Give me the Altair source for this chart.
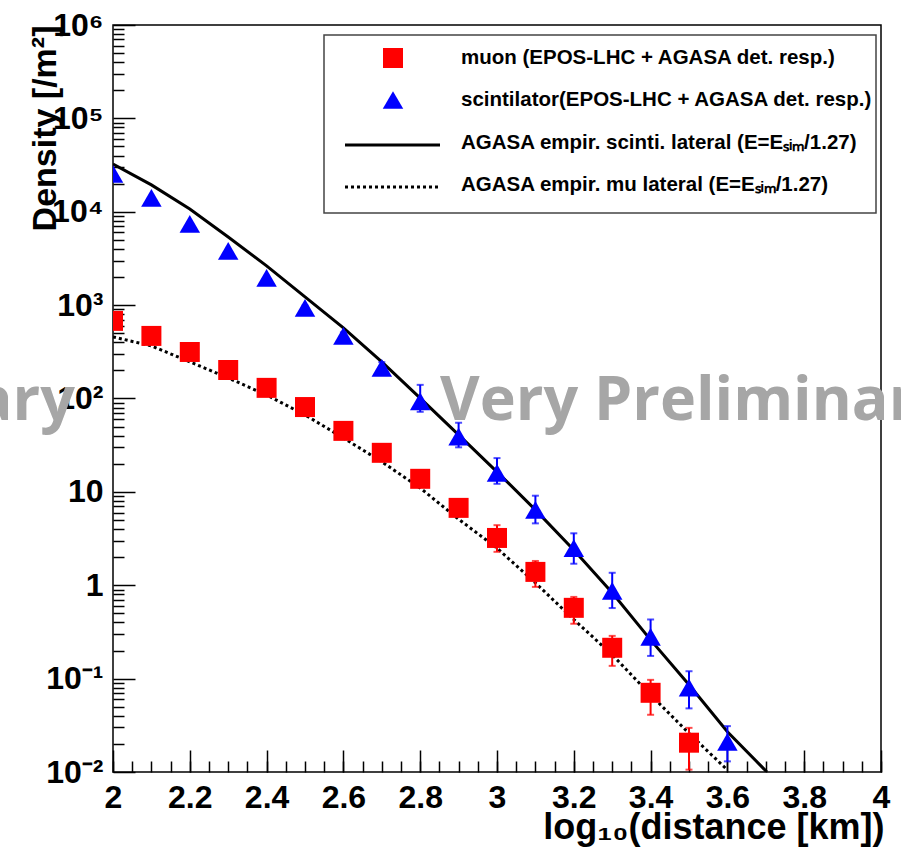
import altair as alt
import pandas as pd

# ---------------- data ----------------
dist_scint = [2.0, 2.1, 2.2, 2.3, 2.4, 2.5, 2.6, 2.7, 2.8, 2.9, 3.0, 3.1, 3.2, 3.3, 3.4, 3.5, 3.6]
scint_density = [25400, 14100, 7400, 3800, 1960, 935, 468, 213, 93, 39, 16, 6.4, 2.5, 0.87, 0.28, 0.080, 0.021]
scint_hi = [25400, 14100, 7400, 3800, 1960, 990, 510, 245, 140, 55, 23, 9.1, 3.6, 1.36, 0.43, 0.12, 0.031]
scint_lo = [25400, 14100, 7400, 3800, 1960, 880, 425, 182, 72, 30, 12.2, 4.6, 1.7, 0.57, 0.175, 0.048, 0.013]

dist_muon = [2.0, 2.1, 2.2, 2.3, 2.4, 2.5, 2.6, 2.7, 2.8, 2.9, 3.0, 3.1, 3.2, 3.3, 3.4, 3.5]
muon_density = [678, 468, 315, 202, 130, 81, 45, 26.2, 13.8, 6.74, 3.21, 1.39, 0.573, 0.214, 0.0705, 0.0206]
muon_hi = [678, 468, 315, 202, 130, 81, 45, 26.2, 13.8, 7.6, 4.4, 1.82, 0.75, 0.287, 0.097, 0.0297]
muon_lo = [678, 468, 315, 202, 130, 81, 45, 26.2, 13.8, 6.0, 2.28, 0.96, 0.387, 0.137, 0.041, 0.0106]

scint_fit_x = [2.0, 2.1, 2.2, 2.3, 2.4, 2.5, 2.6, 2.7, 2.8, 2.9, 3.0, 3.1, 3.2, 3.3, 3.4, 3.5, 3.6, 3.703]
scint_fit_y = [32500, 19400, 10700, 5370, 2630, 1225, 570, 247, 101, 40.7, 16.4, 6.41, 2.39, 0.83, 0.26, 0.086, 0.027, 0.0100]

mu_fit_x = [2.0, 2.1, 2.2, 2.3, 2.4, 2.5, 2.6, 2.7, 2.8, 2.9, 3.0, 3.1, 3.2, 3.3, 3.4, 3.5, 3.6]
mu_fit_y = [457, 366, 247, 166, 109, 66.7, 37.8, 21, 11, 5.1, 2.5, 1.06, 0.43, 0.18, 0.067, 0.026, 0.0105]

x_major = [2.0, 2.2, 2.4, 2.6, 2.8, 3.0, 3.2, 3.4, 3.6, 3.8, 4.0]
x_minor = [2.0, 2.05, 2.1, 2.15, 2.2, 2.25, 2.3, 2.35, 2.4, 2.45, 2.5, 2.55, 2.6, 2.65, 2.7, 2.75,
           2.8, 2.85, 2.9, 2.95, 3.0, 3.05, 3.1, 3.15, 3.2, 3.25, 3.3, 3.35, 3.4, 3.45, 3.5, 3.55,
           3.6, 3.65, 3.7, 3.75, 3.8, 3.85, 3.9, 3.95, 4.0]
y_major = [1e-2, 1e-1, 1, 10, 100, 1e3, 1e4, 1e5, 1e6]
y_minor = [m * d for d in [1e-2, 1e-1, 1, 10, 100, 1e3, 1e4, 1e5] for m in range(2, 10)]

legend_labels = [
    "muon (EPOS-LHC + AGASA det. resp.)",
    "scintilator(EPOS-LHC + AGASA det. resp.)",
    "AGASA empir. scinti. lateral (E=E\u209b\u1d62\u2098/1.27)",
    "AGASA empir. mu lateral  (E=E\u209b\u1d62\u2098/1.27)",
]
watermark = "Very Preliminary"

# ---------------- tables ----------------
scint_df = pd.DataFrame({"d": dist_scint, "v": scint_density, "hi": scint_hi, "lo": scint_lo})
muon_df = pd.DataFrame({"d": dist_muon, "v": muon_density, "hi": muon_hi, "lo": muon_lo})
sfit_df = pd.DataFrame({"d": scint_fit_x, "v": scint_fit_y})
mfit_df = pd.DataFrame({"d": mu_fit_x, "v": mu_fit_y})
one = pd.DataFrame({"k": [0]})

W, H = 768, 747
FONT = "Liberation Sans"
RED = "#ff0000"
BLUE = "#0000ff"

xs = alt.Scale(domain=[2, 4], nice=False, zero=False)
ys = alt.Scale(type="log", domain=[1e-2, 1e6], nice=False)

ylab_expr = ("datum.value < 0.05 ? '10\u207b\u00b2' : datum.value < 0.5 ? '10\u207b\u00b9' : "
             "datum.value < 5 ? '1' : datum.value < 50 ? '10' : datum.value < 500 ? '10\u00b2' : "
             "datum.value < 5000 ? '10\u00b3' : datum.value < 50000 ? '10\u2074' : "
             "datum.value < 500000 ? '10\u2075' : '10\u2076'")

label_x_axis = alt.Axis(orient="bottom", values=x_major, format="~g", ticks=False, domain=False,
                        grid=False, labelFont=FONT, labelFontSize=32, labelFontWeight="bold",
                        labelColor="black", labelPadding=10, labelFlush=False, labelOverlap=False,
                        title="log\u2081\u2080(distance [km])", titleFont=FONT, titleFontSize=36,
                        titleFontWeight="bold", titleColor="black", titleX=771, titleY=66,
                        titleAlign="right", titleAnchor="end", titleBaseline="alphabetic")
label_y_axis = alt.Axis(orient="left", values=y_major, labelExpr=ylab_expr, ticks=False, domain=False,
                        grid=False, labelFont=FONT, labelFontSize=32, labelFontWeight="bold",
                        labelColor="black", labelPadding=10, labelFlush=False, labelOverlap=False,
                        labelBaseline="middle",
                        title="Density [/m\u00b2]", titleFont=FONT, titleFontSize=34,
                        titleFontWeight="bold", titleColor="black", titleX=-58, titleY=0,
                        titleAlign="right", titleAnchor="end", titleBaseline="alphabetic")

major_x_axis = alt.Axis(orient="top", offset=-H, values=x_major, labels=False, domain=False, grid=False,
                        tickSize=22, tickWidth=1.5, tickColor="black", title=None)
major_y_axis = alt.Axis(orient="right", offset=-W, values=y_major, labels=False, domain=False, grid=False,
                        tickSize=22, tickWidth=1.5, tickColor="black", title=None)
minor_x_axis = alt.Axis(orient="top", offset=-H, values=x_minor, labels=False, domain=False, grid=False,
                        tickSize=11, tickWidth=1.5, tickColor="black", title=None)
minor_y_axis = alt.Axis(orient="right", offset=-W, values=y_minor, labels=False, domain=False, grid=False,
                        tickSize=11, tickWidth=1.5, tickColor="black", title=None)

# ---------------- curves ----------------
mu_line = alt.Chart(mfit_df).mark_line(color="black", strokeWidth=3, strokeDash=[3, 3], clip=True).encode(
    x=alt.X("d:Q", scale=xs, axis=minor_x_axis),
    y=alt.Y("v:Q", scale=ys, axis=minor_y_axis),
)
sc_line = alt.Chart(sfit_df).mark_line(color="black", strokeWidth=3, clip=True).encode(
    x=alt.X("d:Q", scale=xs, axis=None),
    y=alt.Y("v:Q", scale=ys, axis=None),
)

# ---------------- error bars ----------------
def errbars(df, color):
    base = alt.Chart(df).transform_filter("datum.hi > datum.lo")
    rule = base.mark_rule(color=color, strokeWidth=2, clip=True).encode(
        x=alt.X("d:Q", scale=xs, axis=None),
        y=alt.Y("lo:Q", scale=ys, axis=None),
        y2="hi:Q",
    )
    cap_hi = base.mark_tick(color=color, orient="horizontal", size=7, thickness=2, clip=True).encode(
        x=alt.X("d:Q", scale=xs, axis=None),
        y=alt.Y("hi:Q", scale=ys, axis=None),
    )
    cap_lo = base.mark_tick(color=color, orient="horizontal", size=7, thickness=2, clip=True).encode(
        x=alt.X("d:Q", scale=xs, axis=None),
        y=alt.Y("lo:Q", scale=ys, axis=None),
    )
    return [rule, cap_hi, cap_lo]

# ---------------- markers ----------------
muon_pts = alt.Chart(muon_df).mark_point(shape="square", filled=True, size=400, opacity=1,
                                          color=RED, clip=True).encode(
    x=alt.X("d:Q", scale=xs, axis=major_x_axis),
    y=alt.Y("v:Q", scale=ys, axis=major_y_axis),
)
scint_pts = alt.Chart(scint_df).mark_point(shape="triangle-up", filled=True, size=420, opacity=1,
                                            color=BLUE, clip=True).encode(
    x=alt.X("d:Q", scale=xs, axis=label_x_axis),
    y=alt.Y("v:Q", scale=ys, axis=label_y_axis),
)

# ---------------- legend (annotation) ----------------
LX0, LX1, LY0, LY1 = 211, 763, 10, 188
leg_box = alt.Chart(one).mark_rect(fill="white", stroke="#444444", strokeWidth=1.5).encode(
    x=alt.value(LX0), x2=alt.value(LX1), y=alt.value(LY0), y2=alt.value(LY1))
row_y = [33, 75, 118, 160]
leg_sq = alt.Chart(one).mark_point(shape="square", filled=True, size=400, opacity=1, color=RED).encode(
    x=alt.value(280), y=alt.value(row_y[0]))
leg_tri = alt.Chart(one).mark_point(shape="triangle-up", filled=True, size=420, opacity=1, color=BLUE).encode(
    x=alt.value(280), y=alt.value(row_y[1]))
leg_solid = alt.Chart(one).mark_rule(color="black", strokeWidth=3).encode(
    x=alt.value(232), x2=alt.value(327), y=alt.value(row_y[2] + 2))
leg_dot = alt.Chart(one).mark_rule(color="black", strokeWidth=3, strokeDash=[3, 3]).encode(
    x=alt.value(232), x2=alt.value(327), y=alt.value(row_y[3] + 2))
leg_texts = [
    alt.Chart(pd.DataFrame({"t": [lab]})).mark_text(
        font=FONT, fontSize=20.5, fontWeight="bold", color="black", align="left", baseline="middle"
    ).encode(text="t:N", x=alt.value(348), y=alt.value(row_y[i]))
    for i, lab in enumerate(legend_labels)
]

# ---------------- watermark ----------------
wm_df = pd.DataFrame({"t": [watermark]})
WM_FONT = "Open Sans"
wm_right = alt.Chart(wm_df).mark_text(font=WM_FONT, fontSize=61, fontWeight="bold", color="#a6a6a6",
                                      align="left", baseline="alphabetic").encode(
    text="t:N", x=alt.value(327), y=alt.value(395))
wm_left = alt.Chart(wm_df).mark_text(font=WM_FONT, fontSize=61, fontWeight="bold", color="#a6a6a6",
                                     align="right", baseline="alphabetic").encode(
    text="t:N", x=alt.value(-38), y=alt.value(395))

layers = [mu_line, sc_line] + errbars(muon_df, RED) + errbars(scint_df, BLUE) + [muon_pts, scint_pts,
          leg_box, leg_sq, leg_tri, leg_solid, leg_dot] + leg_texts + [wm_right, wm_left]

chart = alt.layer(*layers).resolve_axis(x="independent", y="independent").properties(
    width=W, height=H,
    autosize=alt.AutoSizeParams(type="none"),
    padding={"left": 113, "top": 25, "right": 20, "bottom": 81},
    background="white",
).configure_view(stroke="black", strokeWidth=1.5)

chart.save("out.html", embed_options={"renderer": "svg", "actions": False})
